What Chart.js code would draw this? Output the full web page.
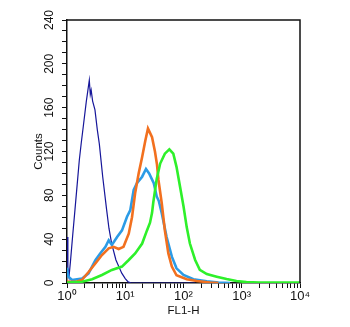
<!DOCTYPE html>
<html>
<head>
<meta charset="utf-8">
<script src="https://cdn.jsdelivr.net/npm/chart.js@4/dist/chart.umd.min.js"></script>
<style>
  html, body { margin: 0; padding: 0; background: #fff; }
  #wrap { width: 350px; height: 327px; position: relative; }
</style>
</head>
<body>
<div id="wrap"><canvas id="histChart"></canvas></div>
<script>
// FL1-H channel (x) and event counts (y) for each histogram
const navyX = [1, 1.035, 1.084, 1.148, 1.259, 1.371, 1.496, 1.626, 1.758, 1.905, 2.138, 2.415, 2.512, 2.6, 2.754, 3.02, 3.311, 3.589, 4.102, 4.786, 5.248, 5.848, 6.918, 8.71, 10, 11.22, 12.59, 158.5];
const navyY = [42, 14, 6, 20, 45, 67, 90, 112, 128, 143, 165, 185, 172, 176, 166, 158, 140, 127, 97, 67, 50, 36, 21, 9, 4, 1, 0, 0];

const blueX = [1, 1.047, 1.219, 1.82, 2.344, 3.09, 3.715, 4.571, 5.2, 5.888, 7.244, 8.79, 10.72, 12.22, 13.96, 15.85, 19.5, 22.7, 25.7, 30.9, 34.67, 37.58, 42.27, 51.29, 63.1, 75.86, 100, 147.9, 251.2, 398.1, 631];
const blueY = [14, 6, 2.7, 4, 8.8, 21, 27, 33, 39, 34.7, 42, 48, 60.5, 66.6, 85, 91, 97, 104, 100, 91, 79, 75, 64, 42, 24, 13.4, 7.3, 3.4, 1.5, 0.5, 0];

const orangeX = [1, 1.072, 1.413, 1.82, 2.344, 3.09, 3.981, 5.2, 6.31, 7.709, 9.333, 11.48, 13.06, 14.79, 16.98, 19.5, 22.13, 24.55, 26.61, 28.84, 32.36, 35.08, 37.15, 42.27, 47.86, 54.95, 63.1, 75.86, 113.5, 169.8, 285.1, 398];
const orangeY = [1.5, 1, 1, 3, 10, 18, 25.5, 31.6, 33, 31, 33, 45, 60, 82, 100, 115, 130, 141, 137, 133, 120, 108, 94, 73, 48, 27, 15, 7, 3.4, 1.8, 0.5, 0];

const greenX = [1, 1.82, 2.692, 3.981, 5.888, 8.79, 11.48, 14.79, 19.5, 23.6, 26.61, 28.84, 30.2, 34.67, 39.81, 47.86, 57.15, 66.83, 75.86, 87.1, 100, 113.5, 128.8, 158.5, 190.5, 251.2, 371.5, 549.5, 812.8, 1202, 1995, 10000];
const greenY = [0.5, 1.2, 3.4, 7.3, 11.9, 15, 21, 27, 36, 48, 55, 64, 73, 95, 109, 118, 122, 118, 106, 88, 70, 51, 36, 21, 12, 8.2, 5.8, 3.6, 1.8, 0.8, 0.3, 0.3];

const decades = [0, 1, 2, 3, 4];
const supers = ['\u2070', '\u00B9', '\u00B2', '\u00B3', '\u2074'];
const countTicks = [0, 40, 80, 120, 160, 200, 240];

const FONT = '"Liberation Sans", Arial, Helvetica, sans-serif';

function pts(xs, ys) {
  return xs.map((x, i) => ({ x: x, y: ys[i] }));
}

function series(label, xs, ys, color, width, order) {
  return {
    label: label,
    data: pts(xs, ys),
    borderColor: color,
    borderWidth: width,
    pointRadius: 0,
    fill: false,
    tension: 0,
    order: order
  };
}

// top and right edges of the plot box
const frame = {
  id: 'frame',
  afterDraw(chart) {
    const a = chart.chartArea;
    const ctx = chart.ctx;
    ctx.save();
    ctx.strokeStyle = '#111';
    ctx.lineWidth = 1.5;
    ctx.beginPath();
    ctx.moveTo(a.left, a.top);
    ctx.lineTo(a.right, a.top);
    ctx.lineTo(a.right, a.bottom);
    ctx.stroke();
    ctx.restore();
  }
};

const ctx = document.getElementById('histChart').getContext('2d');
new Chart(ctx, {
  type: 'line',
  data: {
    datasets: [
      series('Isotype', navyX, navyY, '#16169a', 1.2, 3),
      series('Sample 1', blueX, blueY, '#2b9be6', 2.6, 2),
      series('Sample 2', orangeX, orangeY, '#f2701f', 2.6, 1),
      series('Sample 3', greenX, greenY, '#2ef02a', 2.6, 0)
    ]
  },
  options: {
    responsive: true,
    maintainAspectRatio: false,
    animation: false,
    layout: { padding: { top: 20, right: 50, left: 0, bottom: 0 } },
    plugins: { legend: { display: false }, tooltip: { enabled: false } },
    scales: {
      x: {
        type: 'logarithmic',
        min: 1,
        max: 10000,
        afterBuildTicks(scale) {
          const t = [];
          decades.forEach(d => {
            for (let m = 1; m <= 9; m++) {
              if (d === 4 && m > 1) break;
              t.push({ value: m * Math.pow(10, d), major: m === 1 });
            }
          });
          scale.ticks = t;
        },
        afterFit(scale) { scale.height = 44; },
        grid: { display: true, drawOnChartArea: false, drawTicks: true, tickLength: 5, color: '#111', tickWidth: 1 },
        border: { display: true, color: '#111', width: 1.5 },
        ticks: {
          autoSkip: false,
          maxRotation: 0,
          padding: 1,
          color: '#111',
          font: { family: FONT, size: 13 },
          callback(value) {
            const d = Math.round(Math.log10(value));
            if (Math.abs(Math.pow(10, d) - value) > 1e-6) return '';
            return '10' + supers[d];
          }
        },
        title: {
          display: true,
          text: 'FL1-H',
          color: '#111',
          font: { family: FONT, size: 11.5 },
          padding: { top: 0, bottom: 9 }
        }
      },
      y: {
        type: 'linear',
        min: 0,
        max: 240,
        afterBuildTicks(scale) {
          const t = [];
          for (let v = 0; v <= 240; v += 10) t.push({ value: v });
          scale.ticks = t;
        },
        afterFit(scale) { scale.width = 67; },
        grid: { display: true, drawOnChartArea: false, drawTicks: true, tickLength: 5, color: '#111', tickWidth: 1 },
        border: { display: true, color: '#111', width: 1.5 },
        ticks: {
          autoSkip: false,
          minRotation: 90,
          maxRotation: 90,
          crossAlign: 'center',
          padding: 2,
          color: '#111',
          font: { family: FONT, size: 12 },
          callback(value) {
            return countTicks.includes(value) ? String(value) : '';
          }
        },
        title: {
          display: true,
          text: 'Counts',
          color: '#111',
          font: { family: FONT, size: 11.5 },
          padding: { top: 32, bottom: 0 }
        }
      }
    }
  },
  plugins: [frame]
});
</script>
</body>
</html>
